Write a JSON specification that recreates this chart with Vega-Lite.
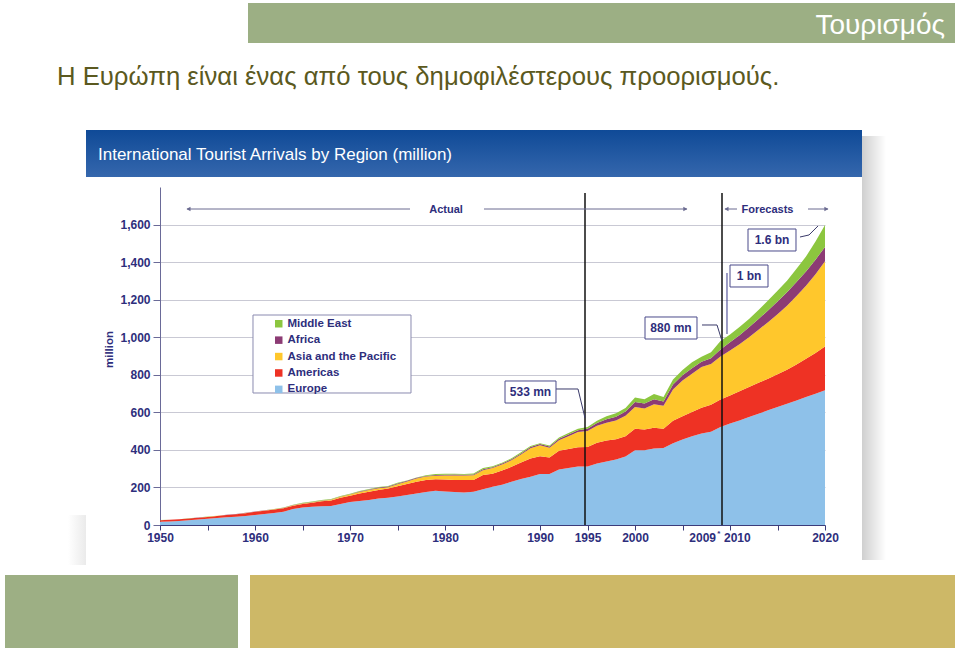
{
"$schema": "https://vega.github.io/schema/vega-lite/v6.json",
"width": 665, "height": 338,
"autosize": {"type": "none"},
"padding": {"left": 160, "top": 187, "right": 134, "bottom": 125},
"background": "white",
"config": {"view": {"stroke": null}, "font": "Liberation Sans"},
"data": {"values": [{}]},
"datasets": {
"regions": [
{"region": "Europe", "rank": 1},
{"region": "Americas", "rank": 2},
{"region": "Asia and the Pacific", "rank": 3},
{"region": "Africa", "rank": 4},
{"region": "Middle East", "rank": 5}
],
"arrivals": [
{"year":1950,"Europe":17,"Americas":8,"Asia and the Pacific":0.3,"Africa":0.5,"Middle East":0.2},
{"year":1951,"Europe":19,"Americas":8.5,"Asia and the Pacific":0.3,"Africa":0.5,"Middle East":0.2},
{"year":1952,"Europe":21,"Americas":9,"Asia and the Pacific":0.4,"Africa":0.5,"Middle East":0.3},
{"year":1953,"Europe":25,"Americas":9,"Asia and the Pacific":0.5,"Africa":0.5,"Middle East":0.3},
{"year":1954,"Europe":29,"Americas":9.5,"Asia and the Pacific":0.6,"Africa":0.6,"Middle East":0.3},
{"year":1955,"Europe":33,"Americas":10,"Asia and the Pacific":0.7,"Africa":0.6,"Middle East":0.4},
{"year":1956,"Europe":37,"Americas":11,"Asia and the Pacific":0.7,"Africa":0.6,"Middle East":0.4},
{"year":1957,"Europe":41,"Americas":12,"Asia and the Pacific":0.8,"Africa":0.7,"Middle East":0.4},
{"year":1958,"Europe":44,"Americas":13,"Asia and the Pacific":0.8,"Africa":0.7,"Middle East":0.5},
{"year":1959,"Europe":48,"Americas":15,"Asia and the Pacific":0.9,"Africa":0.7,"Middle East":0.5},
{"year":1960,"Europe":53,"Americas":17,"Asia and the Pacific":0.9,"Africa":0.8,"Middle East":0.6},
{"year":1961,"Europe":58,"Americas":18,"Asia and the Pacific":1.1,"Africa":0.9,"Middle East":0.8},
{"year":1962,"Europe":64,"Americas":18,"Asia and the Pacific":1.3,"Africa":1.0,"Middle East":1.0},
{"year":1963,"Europe":71,"Americas":18,"Asia and the Pacific":1.5,"Africa":1.1,"Middle East":1.3},
{"year":1964,"Europe":85,"Americas":18,"Asia and the Pacific":1.8,"Africa":1.2,"Middle East":1.8},
{"year":1965,"Europe":93,"Americas":19,"Asia and the Pacific":2.1,"Africa":1.4,"Middle East":2.4},
{"year":1966,"Europe":97,"Americas":22,"Asia and the Pacific":2.5,"Africa":1.5,"Middle East":2.3},
{"year":1967,"Europe":100,"Americas":26,"Asia and the Pacific":3,"Africa":1.6,"Middle East":2.0},
{"year":1968,"Europe":101,"Americas":30,"Asia and the Pacific":3.5,"Africa":1.8,"Middle East":1.8},
{"year":1969,"Europe":112,"Americas":33,"Asia and the Pacific":5,"Africa":2.0,"Middle East":1.8},
{"year":1970,"Europe":122,"Americas":34,"Asia and the Pacific":6,"Africa":2.4,"Middle East":1.9},
{"year":1971,"Europe":128,"Americas":40,"Asia and the Pacific":8,"Africa":2.8,"Middle East":2.2},
{"year":1972,"Europe":133,"Americas":44,"Asia and the Pacific":9,"Africa":3.2,"Middle East":2.5},
{"year":1973,"Europe":141,"Americas":45,"Asia and the Pacific":10,"Africa":3.5,"Middle East":3},
{"year":1974,"Europe":145,"Americas":50,"Asia and the Pacific":6,"Africa":3.8,"Middle East":3.5},
{"year":1975,"Europe":152,"Americas":55,"Asia and the Pacific":10,"Africa":4,"Middle East":4},
{"year":1976,"Europe":160,"Americas":58,"Asia and the Pacific":14,"Africa":3,"Middle East":2.5},
{"year":1977,"Europe":168,"Americas":62,"Asia and the Pacific":18,"Africa":3,"Middle East":2.5},
{"year":1978,"Europe":176,"Americas":63,"Asia and the Pacific":19,"Africa":3.5,"Middle East":3},
{"year":1979,"Europe":182,"Americas":61,"Asia and the Pacific":19,"Africa":4,"Middle East":5},
{"year":1980,"Europe":179,"Americas":63,"Asia and the Pacific":21,"Africa":5,"Middle East":5},
{"year":1981,"Europe":176,"Americas":64,"Asia and the Pacific":24,"Africa":4.5,"Middle East":4.5},
{"year":1982,"Europe":173,"Americas":66,"Asia and the Pacific":25,"Africa":4,"Middle East":4},
{"year":1983,"Europe":177,"Americas":62,"Asia and the Pacific":26,"Africa":4.5,"Middle East":4.5},
{"year":1984,"Europe":191,"Americas":75,"Asia and the Pacific":26,"Africa":5.5,"Middle East":5.5},
{"year":1985,"Europe":204,"Americas":69,"Asia and the Pacific":30,"Africa":5,"Middle East":5},
{"year":1986,"Europe":215,"Americas":75,"Asia and the Pacific":32,"Africa":5,"Middle East":5},
{"year":1987,"Europe":230,"Americas":80,"Asia and the Pacific":35,"Africa":5,"Middle East":5},
{"year":1988,"Europe":245,"Americas":88,"Asia and the Pacific":42,"Africa":6,"Middle East":6},
{"year":1989,"Europe":257,"Americas":97,"Asia and the Pacific":55,"Africa":6,"Middle East":6},
{"year":1990,"Europe":271,"Americas":95,"Asia and the Pacific":59,"Africa":6,"Middle East":5},
{"year":1991,"Europe":271,"Americas":88,"Asia and the Pacific":53,"Africa":6,"Middle East":5},
{"year":1992,"Europe":296,"Americas":99,"Asia and the Pacific":56,"Africa":8,"Middle East":7},
{"year":1993,"Europe":303,"Americas":102,"Asia and the Pacific":68,"Africa":9,"Middle East":8},
{"year":1994,"Europe":311,"Americas":103,"Asia and the Pacific":81,"Africa":9,"Middle East":8},
{"year":1995,"Europe":312,"Americas":104,"Asia and the Pacific":84,"Africa":13,"Middle East":9},
{"year":1996,"Europe":327,"Americas":111,"Asia and the Pacific":90,"Africa":15,"Middle East":12},
{"year":1997,"Europe":338,"Americas":112,"Asia and the Pacific":95,"Africa":18,"Middle East":16},
{"year":1998,"Europe":349,"Americas":108,"Asia and the Pacific":100,"Africa":20,"Middle East":18},
{"year":1999,"Europe":365,"Americas":107,"Asia and the Pacific":110,"Africa":23,"Middle East":18},
{"year":2000,"Europe":398,"Americas":115,"Asia and the Pacific":115,"Africa":27,"Middle East":24},
{"year":2001,"Europe":398,"Americas":110,"Asia and the Pacific":112,"Africa":27,"Middle East":23},
{"year":2002,"Europe":408,"Americas":110,"Asia and the Pacific":125,"Africa":27,"Middle East":27},
{"year":2003,"Europe":410,"Americas":103,"Asia and the Pacific":122,"Africa":23,"Middle East":23},
{"year":2004,"Europe":435,"Americas":120,"Asia and the Pacific":167,"Africa":26,"Middle East":27},
{"year":2005,"Europe":455,"Americas":124,"Asia and the Pacific":191,"Africa":27,"Middle East":28},
{"year":2006,"Europe":473,"Americas":129,"Asia and the Pacific":203,"Africa":30,"Middle East":32},
{"year":2007,"Europe":487,"Americas":138,"Asia and the Pacific":216,"Africa":28,"Middle East":27},
{"year":2008,"Europe":497,"Americas":143,"Asia and the Pacific":218,"Africa":30,"Middle East":32},
{"year":2009,"Europe":522,"Americas":147,"Asia and the Pacific":228,"Africa":38,"Middle East":45},
{"year":2010,"Europe":540,"Americas":150,"Asia and the Pacific":239,"Africa":44,"Middle East":41},
{"year":2011,"Europe":557,"Americas":155,"Asia and the Pacific":251,"Africa":48,"Middle East":43},
{"year":2012,"Europe":575,"Americas":160,"Asia and the Pacific":265,"Africa":53,"Middle East":44},
{"year":2013,"Europe":593,"Americas":164,"Asia and the Pacific":283,"Africa":57,"Middle East":48},
{"year":2014,"Europe":611,"Americas":168,"Asia and the Pacific":301,"Africa":62,"Middle East":53},
{"year":2015,"Europe":628,"Americas":175,"Asia and the Pacific":320,"Africa":67,"Middle East":57},
{"year":2016,"Europe":646,"Americas":181,"Asia and the Pacific":341,"Africa":71,"Middle East":62},
{"year":2017,"Europe":663,"Americas":192,"Asia and the Pacific":365,"Africa":74,"Middle East":70},
{"year":2018,"Europe":681,"Americas":204,"Asia and the Pacific":389,"Africa":76,"Middle East":80},
{"year":2019,"Europe":699,"Americas":217,"Asia and the Pacific":420,"Africa":77,"Middle East":97},
{"year":2020,"Europe":717,"Americas":233,"Asia and the Pacific":454,"Africa":77,"Middle East":117}
]},
"layer": [
{"mark": {"type": "rect", "color": {"gradient": "linear", "x1": 0, "y1": 0, "x2": 1, "y2": 0, "stops": [{"offset": 0, "color": "#cfcfcf"}, {"offset": 1, "color": "#ffffff"}]}}, "encoding": {"x": {"datum": 2023.895, "type": "quantitative"}, "x2": {"datum": 2026.421}, "y": {"datum": 2071.6, "type": "quantitative"}, "y2": {"datum": -186.4}}},
{"mark": {"type": "rect", "opacity": 0.5, "color": {"gradient": "linear", "x1": 0, "y1": 0, "x2": 1, "y2": 0, "stops": [{"offset": 0, "color": "#ffffff"}, {"offset": 1, "color": "#d6d6d6"}]}}, "encoding": {"x": {"datum": 1940.316, "type": "quantitative"}, "x2": {"datum": 1942.211}, "y": {"datum": 53, "type": "quantitative"}, "y2": {"datum": -213}}},
{"mark": {"type": "rect", "color": "#9caf84"}, "encoding": {"x": {"datum": 1959.263, "type": "quantitative"}, "x2": {"datum": 2033.684}, "y": {"datum": 2780, "type": "quantitative"}, "y2": {"datum": 2567}}},
{"mark": {"type": "text", "text": "Τουρισμός", "align": "right", "baseline": "alphabetic", "font": "Liberation Sans", "fontSize": 28, "color": "#ffffff"}, "encoding": {"x": {"datum": 2032.632, "type": "quantitative"}, "y": {"datum": 2614.8, "type": "quantitative"}}},
{"mark": {"type": "text", "text": "Η Ευρώπη είναι ένας από τους δημοφιλέστερους προορισμούς.", "align": "left", "baseline": "alphabetic", "font": "Liberation Sans", "fontSize": 25.7, "color": "#5b5920"}, "encoding": {"x": {"datum": 1939.158, "type": "quantitative"}, "y": {"datum": 2343.2, "type": "quantitative"}}},
{"mark": {"type": "rect", "color": {"gradient": "linear", "x1": 0, "y1": 0, "x2": 0, "y2": 1, "stops": [{"offset": 0, "color": "#0f4a97"}, {"offset": 1, "color": "#3567ad"}]}}, "encoding": {"x": {"datum": 1942.211, "type": "quantitative"}, "x2": {"datum": 2023.895}, "y": {"datum": 2103.5, "type": "quantitative"}, "y2": {"datum": 1853.2}}},
{"mark": {"type": "text", "text": "International Tourist Arrivals by Region (million)", "align": "left", "baseline": "alphabetic", "font": "Liberation Sans", "fontSize": 17, "color": "#ffffff"}, "encoding": {"x": {"datum": 1943.474, "type": "quantitative"}, "y": {"datum": 1943.8, "type": "quantitative"}}},
{"mark": {"type": "rect", "color": "#9daf84"}, "encoding": {"x": {"datum": 1933.684, "type": "quantitative"}, "x2": {"datum": 1958.211}, "y": {"datum": -266.3, "type": "quantitative"}, "y2": {"datum": -655}}},
{"mark": {"type": "rect", "color": "#cdb867"}, "encoding": {"x": {"datum": 1959.474, "type": "quantitative"}, "x2": {"datum": 2033.684}, "y": {"datum": -266.3, "type": "quantitative"}, "y2": {"datum": -655}}},
{"data": {"name": "arrivals"},
 "transform": [
  {"fold": ["Europe", "Americas", "Asia and the Pacific", "Africa", "Middle East"], "as": ["region", "value"]},
  {"lookup": "region", "from": {"data": {"name": "regions"}, "key": "region", "fields": ["rank"]}}
 ],
 "mark": {"type": "area", "interpolate": "linear"},
 "encoding": {
  "x": {"field": "year", "type": "quantitative",
        "scale": {"domain": [1950, 2020], "nice": false, "zero": false},
        "axis": {"values": [1950,1955,1960,1965,1970,1975,1980,1985,1990,1995,2000,2005,2010,2015,2020], "format": "d",
                 "labelExpr": "indexof([1955,1965,1975,1985,2005,2010,2015], datum.value) >= 0 ? '' : datum.label",
                 "title": null, "grid": false, "domainColor": "#3c3c7a", "tickColor": "#3c3c7a", "tickSize": 5, "labelPadding": 2,
                 "labelFont": "Liberation Sans", "labelFontSize": 12, "labelFontWeight": "bold", "labelColor": "#2e2e7c",
                 "labelFlush": false, "labelOverlap": false, "zindex": 1}},
  "y": {"field": "value", "type": "quantitative", "stack": "zero",
        "scale": {"domain": [0, 1800], "nice": false},
        "axis": {"values": [0,200,400,600,800,1000,1200,1400,1600], "format": ",d", "title": "million", "grid": true,
                 "gridColor": "#c9c9d4", "domainColor": "#6a6a98", "tickColor": "#6a6a98", "tickSize": 7, "labelPadding": 3,
                 "labelFont": "Liberation Sans", "labelFontSize": 12, "labelFontWeight": "bold", "labelColor": "#2e2e7c",
                 "titleFont": "Liberation Sans", "titleFontSize": 11.5, "titleFontWeight": "bold", "titleColor": "#2e2e7c",
                 "titlePadding": 5, "titleY": 162}},
  "order": {"field": "rank", "type": "quantitative"},
  "color": {"field": "region", "type": "nominal",
            "sort": ["Middle East", "Africa", "Asia and the Pacific", "Americas", "Europe"],
            "scale": {"domain": ["Middle East", "Africa", "Asia and the Pacific", "Americas", "Europe"],
                      "range": ["#8cc63f", "#8c3b74", "#ffc72c", "#ee3224", "#8ec1e9"]},
            "legend": {"orient": "none", "legendX": 113, "legendY": 131, "title": null, "symbolType": "square", "symbolSize": 56,
                       "symbolStrokeWidth": 0, "labelFont": "Liberation Sans", "labelFontSize": 11.5, "labelFontWeight": "bold",
                       "labelColor": "#2e2e7c", "rowPadding": 3.4, "padding": 0, "labelOffset": 3}}
 }},
{"mark": {"type": "rect", "fill": "#ffffff", "stroke": "#8a8ab0", "strokeWidth": 1}, "encoding": {"x": {"datum": 1959.789, "type": "quantitative"}, "x2": {"datum": 1976.421}, "y": {"datum": 1118.3, "type": "quantitative"}, "y2": {"datum": 702.96}}},
{"mark": {"type": "rule", "color": "#111111", "strokeWidth": 1.5}, "encoding": {"x": {"datum": 1994.737, "type": "quantitative"}, "y": {"datum": 0, "type": "quantitative"}, "y2": {"datum": 1768}}},
{"mark": {"type": "rule", "color": "#111111", "strokeWidth": 1.5}, "encoding": {"x": {"datum": 2009.158, "type": "quantitative"}, "y": {"datum": 0, "type": "quantitative"}, "y2": {"datum": 1768}}},
{"mark": {"type": "rule", "color": "#6a6a90", "strokeWidth": 1}, "encoding": {"x": {"datum": 1952.842, "type": "quantitative"}, "x2": {"datum": 1976.316}, "y": {"datum": 1682.8, "type": "quantitative"}}},
{"mark": {"type": "rule", "color": "#6a6a90", "strokeWidth": 1}, "encoding": {"x": {"datum": 1984.105, "type": "quantitative"}, "x2": {"datum": 2005.474}, "y": {"datum": 1682.8, "type": "quantitative"}}},
{"mark": {"type": "rule", "color": "#6a6a90", "strokeWidth": 1}, "encoding": {"x": {"datum": 2009.474, "type": "quantitative"}, "x2": {"datum": 2010.737}, "y": {"datum": 1682.8, "type": "quantitative"}}},
{"mark": {"type": "rule", "color": "#6a6a90", "strokeWidth": 1}, "encoding": {"x": {"datum": 2018.211, "type": "quantitative"}, "x2": {"datum": 2020.316}, "y": {"datum": 1682.8, "type": "quantitative"}}},
{"mark": {"type": "point", "shape": "triangle-left", "filled": true, "size": 22, "color": "#6a6a90", "opacity": 1}, "encoding": {"x": {"datum": 1953.0, "type": "quantitative"}, "y": {"datum": 1682.8, "type": "quantitative"}}},
{"mark": {"type": "point", "shape": "triangle-right", "filled": true, "size": 22, "color": "#6a6a90", "opacity": 1}, "encoding": {"x": {"datum": 2005.3, "type": "quantitative"}, "y": {"datum": 1682.8, "type": "quantitative"}}},
{"mark": {"type": "point", "shape": "triangle-left", "filled": true, "size": 22, "color": "#6a6a90", "opacity": 1}, "encoding": {"x": {"datum": 2009.63, "type": "quantitative"}, "y": {"datum": 1682.8, "type": "quantitative"}}},
{"mark": {"type": "point", "shape": "triangle-right", "filled": true, "size": 22, "color": "#6a6a90", "opacity": 1}, "encoding": {"x": {"datum": 2020.15, "type": "quantitative"}, "y": {"datum": 1682.8, "type": "quantitative"}}},
{"mark": {"type": "text", "text": "Actual", "align": "center", "baseline": "alphabetic", "font": "Liberation Sans", "fontSize": 11, "fontWeight": "bold", "color": "#2e2e7c"}, "encoding": {"x": {"datum": 1980.105, "type": "quantitative"}, "y": {"datum": 1661.5, "type": "quantitative"}}},
{"mark": {"type": "text", "text": "Forecasts", "align": "center", "baseline": "alphabetic", "font": "Liberation Sans", "fontSize": 11, "fontWeight": "bold", "color": "#2e2e7c"}, "encoding": {"x": {"datum": 2013.947, "type": "quantitative"}, "y": {"datum": 1661.5, "type": "quantitative"}}},
{"mark": {"type": "rule", "color": "#3a3a6a", "strokeWidth": 1}, "encoding": {"x": {"datum": 1991.684, "type": "quantitative"}, "x2": {"datum": 1994.0}, "y": {"datum": 724.3, "type": "quantitative"}, "y2": {"datum": 724.3}}},
{"mark": {"type": "rule", "color": "#3a3a6a", "strokeWidth": 1}, "encoding": {"x": {"datum": 1994.0, "type": "quantitative"}, "x2": {"datum": 1994.737}, "y": {"datum": 724.3, "type": "quantitative"}, "y2": {"datum": 569.8}}},
{"mark": {"type": "rule", "color": "#3a3a6a", "strokeWidth": 1}, "encoding": {"x": {"datum": 2007.053, "type": "quantitative"}, "x2": {"datum": 2008.632}, "y": {"datum": 1065.1, "type": "quantitative"}, "y2": {"datum": 1065.1}}},
{"mark": {"type": "rule", "color": "#3a3a6a", "strokeWidth": 1}, "encoding": {"x": {"datum": 2008.632, "type": "quantitative"}, "x2": {"datum": 2009.158}, "y": {"datum": 1065.1, "type": "quantitative"}, "y2": {"datum": 979.9}}},
{"mark": {"type": "rule", "color": "#3a3a8a", "strokeWidth": 1}, "encoding": {"x": {"datum": 2009.684, "type": "quantitative"}, "y": {"datum": 1342.0, "type": "quantitative"}, "y2": {"datum": 1017.2}}},
{"mark": {"type": "rule", "color": "#3a3a6a", "strokeWidth": 1}, "encoding": {"x": {"datum": 2017.368, "type": "quantitative"}, "x2": {"datum": 2018.316}, "y": {"datum": 1533.7, "type": "quantitative"}, "y2": {"datum": 1544.4}}},
{"mark": {"type": "rule", "color": "#3a3a6a", "strokeWidth": 1}, "encoding": {"x": {"datum": 2018.316, "type": "quantitative"}, "x2": {"datum": 2019.263}, "y": {"datum": 1544.4, "type": "quantitative"}, "y2": {"datum": 1592.4}}},
{"mark": {"type": "rect", "fill": "#ffffff", "stroke": "#4b4b8a", "strokeWidth": 1}, "encoding": {"x": {"datum": 1986.316, "type": "quantitative"}, "x2": {"datum": 1991.684}, "y": {"datum": 766.9, "type": "quantitative"}, "y2": {"datum": 649.7}}},
{"mark": {"type": "rect", "fill": "#ffffff", "stroke": "#4b4b8a", "strokeWidth": 1}, "encoding": {"x": {"datum": 2001.053, "type": "quantitative"}, "x2": {"datum": 2006.526}, "y": {"datum": 1107.7, "type": "quantitative"}, "y2": {"datum": 990.5}}},
{"mark": {"type": "rect", "fill": "#ffffff", "stroke": "#4b4b8a", "strokeWidth": 1}, "encoding": {"x": {"datum": 2010.0, "type": "quantitative"}, "x2": {"datum": 2014.0}, "y": {"datum": 1384.6, "type": "quantitative"}, "y2": {"datum": 1267.5}}},
{"mark": {"type": "rect", "fill": "#ffffff", "stroke": "#4b4b8a", "strokeWidth": 1}, "encoding": {"x": {"datum": 2011.895, "type": "quantitative"}, "x2": {"datum": 2016.947}, "y": {"datum": 1576.3, "type": "quantitative"}, "y2": {"datum": 1459.2}}},
{"mark": {"type": "text", "text": "533 mn", "align": "center", "baseline": "middle", "font": "Liberation Sans", "fontSize": 12, "fontWeight": "bold", "color": "#2e2e7c"}, "encoding": {"x": {"datum": 1989.0, "type": "quantitative"}, "y": {"datum": 708.3, "type": "quantitative"}}},
{"mark": {"type": "text", "text": "880 mn", "align": "center", "baseline": "middle", "font": "Liberation Sans", "fontSize": 12, "fontWeight": "bold", "color": "#2e2e7c"}, "encoding": {"x": {"datum": 2003.789, "type": "quantitative"}, "y": {"datum": 1049.1, "type": "quantitative"}}},
{"mark": {"type": "text", "text": "1 bn", "align": "center", "baseline": "middle", "font": "Liberation Sans", "fontSize": 12, "fontWeight": "bold", "color": "#2e2e7c"}, "encoding": {"x": {"datum": 2012.0, "type": "quantitative"}, "y": {"datum": 1326.0, "type": "quantitative"}}},
{"mark": {"type": "text", "text": "1.6 bn", "align": "center", "baseline": "middle", "font": "Liberation Sans", "fontSize": 12, "fontWeight": "bold", "color": "#2e2e7c"}, "encoding": {"x": {"datum": 2014.421, "type": "quantitative"}, "y": {"datum": 1517.8, "type": "quantitative"}}},
{"mark": {"type": "text", "text": "2009", "align": "right", "baseline": "alphabetic", "font": "Liberation Sans", "fontSize": 12, "fontWeight": "bold", "color": "#2e2e7c"}, "encoding": {"x": {"datum": 2008.526, "type": "quantitative"}, "y": {"datum": -90.5, "type": "quantitative"}}},
{"mark": {"type": "text", "text": "*", "align": "left", "baseline": "alphabetic", "font": "Liberation Sans", "fontSize": 8, "fontWeight": "bold", "color": "#2e2e7c"}, "encoding": {"x": {"datum": 2008.65, "type": "quantitative"}, "y": {"datum": -60, "type": "quantitative"}}},
{"mark": {"type": "text", "text": "2010", "align": "left", "baseline": "alphabetic", "font": "Liberation Sans", "fontSize": 12, "fontWeight": "bold", "color": "#2e2e7c"}, "encoding": {"x": {"datum": 2009.368, "type": "quantitative"}, "y": {"datum": -90.5, "type": "quantitative"}}}
]
}
